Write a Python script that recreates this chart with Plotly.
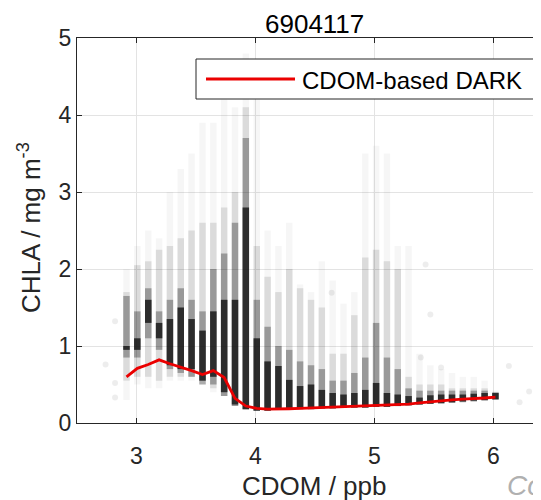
import plotly.graph_objects as go

# ---- data ----
cdom_cols = [2.916, 3.007, 3.099, 3.190, 3.281, 3.372, 3.463, 3.555, 3.646, 3.737,
             3.828, 3.919, 4.011, 4.102, 4.193, 4.284, 4.375, 4.467, 4.558, 4.649,
             4.740, 4.831, 4.923, 5.014, 5.105, 5.196, 5.287, 5.379, 5.470, 5.561,
             5.652, 5.743, 5.835, 5.926, 6.017]
# sparse (faint) extent of CHLA observations per CDOM column
faint_lo = [0.30, 0.50, 0.45, 0.45, 0.55, 0.55, 0.55, 0.50, 0.40, 0.35,
            0.22, 0.18, 0.16, 0.16, 0.17, 0.18, 0.18, 0.18, 0.19, 0.19,
            0.20, 0.20, 0.20, 0.21, 0.21, 0.22, 0.23, 0.24, 0.25, 0.25,
            0.26, 0.27, 0.28, 0.29, 0.30]
faint_hi = [2.00, 2.30, 2.50, 2.40, 3.00, 3.30, 3.50, 3.90, 3.90, 4.20,
            4.10, 4.80, 4.20, 2.50, 2.30, 2.60, 1.80, 1.70, 2.10, 1.85,
            1.55, 1.70, 3.50, 3.60, 3.50, 2.30, 2.30, 0.90, 0.75, 0.70,
            0.65, 0.60, 0.60, 0.55, 0.42]
# moderately dense extent
mid_lo = [0.55, 0.60, 0.60, 0.55, 0.60, 0.60, 0.60, 0.55, 0.45, 0.35,
          0.22, 0.18, 0.16, 0.16, 0.17, 0.18, 0.18, 0.18, 0.19, 0.19,
          0.20, 0.20, 0.20, 0.21, 0.21, 0.22, 0.23, 0.24, 0.25, 0.25,
          0.26, 0.27, 0.28, 0.29, 0.30]
mid_hi = [1.70, 2.05, 2.10, 2.25, 2.30, 2.40, 2.50, 2.60, 2.60, 2.80,
          3.00, 4.10, 2.30, 1.90, 1.70, 2.00, 1.75, 1.60, 1.50, 0.90,
          0.90, 1.40, 2.15, 2.25, 2.10, 2.00, 0.60, 0.50, 0.50, 0.50,
          0.45, 0.45, 0.45, 0.45, 0.38]
# fairly dense (dark grey) extent
shade_lo = [0.85, 0.85, 1.10, 0.95, 0.70, 0.65, 0.60, 0.50, 0.50, 0.35,
            0.22, 0.18, 0.16, 0.16, 0.17, 0.18, 0.18, 0.18, 0.19, 0.19,
            0.20, 0.20, 0.20, 0.21, 0.21, 0.22, 0.23, 0.24, 0.25, 0.25,
            0.26, 0.27, 0.28, 0.29, 0.30]
shade_hi = [1.65, 1.45, 1.75, 1.45, 1.60, 1.75, 1.60, 1.45, 2.00, 2.20,
            2.60, 3.70, 1.60, 1.25, 1.00, 0.95, 0.80, 0.75, 0.70, 0.55,
            0.55, 0.65, 0.85, 1.30, 0.85, 0.70, 0.45, 0.42, 0.42, 0.42,
            0.42, 0.42, 0.42, 0.42, 0.40]
# dense core
dense_lo = [0.95, 0.95, 1.30, 1.10, 0.75, 0.70, 0.70, 0.55, 0.60, 0.40,
            0.24, 0.18, 0.16, 0.16, 0.17, 0.18, 0.18, 0.18, 0.19, 0.19,
            0.20, 0.20, 0.20, 0.21, 0.21, 0.22, 0.23, 0.24, 0.25, 0.26,
            0.27, 0.28, 0.29, 0.30, 0.31]
dense_hi = [1.00, 1.10, 1.60, 1.30, 1.35, 1.50, 1.35, 1.20, 1.45, 1.60,
            1.60, 2.80, 1.10, 0.80, 0.74, 0.56, 0.48, 0.50, 0.43, 0.39,
            0.37, 0.39, 0.43, 0.52, 0.39, 0.37, 0.35, 0.33, 0.36, 0.37,
            0.37, 0.37, 0.38, 0.39, 0.39]
# isolated observations between columns
stray_cdom = [2.74, 2.82, 2.82, 2.82, 5.39, 5.47, 5.56, 6.13, 6.22, 6.30, 4.64, 5.43]
stray_chla = [0.76, 1.32, 0.52, 0.33, 0.85, 1.41, 0.72, 0.74, 0.27, 0.41, 1.69, 2.06]

# CDOM-based DARK curve
dark_cdom = cdom_cols
dark_chla = [0.60, 0.71, 0.76, 0.82, 0.77, 0.73, 0.68, 0.63, 0.68, 0.59,
             0.32, 0.22, 0.19, 0.18, 0.18, 0.185, 0.19, 0.195, 0.20, 0.21,
             0.215, 0.22, 0.225, 0.23, 0.235, 0.24, 0.245, 0.26, 0.275, 0.29,
             0.30, 0.31, 0.315, 0.325, 0.335]

title_text = "6904117"
xlabel = "CDOM / ppb"
ylabel = "CHLA / mg m<sup>-3</sup>"
legend_label = "CDOM-based DARK"
x_ticks = [3, 4, 5, 6]
y_ticks = [0, 1, 2, 3, 4, 5]


def segs(xs, lo, hi):
    X, Y = [], []
    for x, a, b in zip(xs, lo, hi):
        X += [x, x, None]
        Y += [a, b, None]
    return X, Y


fig = go.Figure()
for lo, hi, col in [(faint_lo, faint_hi, "rgba(0,0,0,0.035)"),
                    (mid_lo, mid_hi, "rgba(0,0,0,0.11)"),
                    (shade_lo, shade_hi, "rgba(0,0,0,0.30)"),
                    (dense_lo, dense_hi, "rgba(25,25,25,0.85)")]:
    X, Y = segs(cdom_cols, lo, hi)
    fig.add_trace(go.Scatter(x=X, y=Y, mode="lines", line=dict(color=col, width=6.5),
                             showlegend=False, hoverinfo="skip"))

fig.add_trace(go.Scatter(x=stray_cdom, y=stray_chla, mode="markers",
                         marker=dict(size=6, color="rgba(0,0,0,0.07)"),
                         showlegend=False, hoverinfo="skip"))

fig.add_trace(go.Scatter(x=dark_cdom, y=dark_chla, mode="lines", name=legend_label,
                         line=dict(color="rgb(235,0,0)", width=2.8), showlegend=False))

FONT = "Liberation Sans, Arial, sans-serif"
AX = "#262626"
OFF = 8              # page body margin
PW, PH = 464, 385    # plot area size in px
L, T = 69, 30        # plot area offset inside figure
FW, FH = 533, 492


def px(xp):  # page x -> paper
    return (xp - OFF - L) / PW


def py(yp):  # page y -> paper
    return (T + PH - (yp - OFF)) / PH


fig.update_layout(
    width=FW, height=FH,
    margin=dict(l=L, r=FW - L - PW, t=T, b=FH - T - PH, pad=0),
    paper_bgcolor="white", plot_bgcolor="white",
    font=dict(family=FONT, color=AX, size=23),
    showlegend=False,
)
fig.update_xaxes(range=[2.5, 6.4], tickvals=x_ticks, ticks="inside", ticklen=5,
                 tickcolor=AX, showline=True, linecolor=AX, linewidth=1,
                 mirror="ticks", showgrid=True, gridcolor="#e3e3e3", zeroline=False,
                 tickfont=dict(size=23, color=AX), ticklabelstandoff=12)
fig.update_yaxes(range=[0, 5], tickvals=y_ticks, ticks="inside", ticklen=5,
                 tickcolor=AX, showline=True, linecolor=AX, linewidth=1,
                 mirror=False, showgrid=True, gridcolor="#e3e3e3", zeroline=False,
                 tickfont=dict(size=23, color=AX))

# legend box (drawn)
fig.add_shape(type="rect", xref="paper", yref="paper",
              x0=px(196), x1=px(534), y0=py(99), y1=py(59),
              line=dict(color=AX, width=1), fillcolor="white", layer="above")
fig.add_shape(type="line", xref="paper", yref="paper",
              x0=px(206), x1=px(295), y0=py(79), y1=py(79),
              line=dict(color="rgb(235,0,0)", width=2.8), layer="above")
fig.add_annotation(xref="paper", yref="paper", x=px(300), y=py(80), xanchor="left",
                   yanchor="middle", text=legend_label, showarrow=False,
                   font=dict(size=24, color="black", family=FONT))

# title, axis labels
fig.add_annotation(xref="x", yref="paper", x=4.5, y=py(24), xanchor="center",
                   yanchor="middle", text=title_text, showarrow=False,
                   font=dict(size=26, color="black", family=FONT))
fig.add_annotation(xref="x", yref="paper", x=4.5, y=py(486), xanchor="center",
                   yanchor="middle", text=xlabel, showarrow=False,
                   font=dict(size=26, color=AX, family=FONT))
fig.add_annotation(xref="paper", yref="paper", x=px(29), y=py(228), xanchor="center",
                   yanchor="middle", text=ylabel, textangle=-90, showarrow=False,
                   font=dict(size=26, color=AX, family=FONT))
# watermark fragment
fig.add_annotation(xref="paper", yref="paper", x=px(505), y=py(468), xanchor="left",
                   yanchor="top", text="<i>Co</i>", showarrow=False,
                   font=dict(size=28, color="#b0b0b0", family=FONT))

fig.write_html("out.html")
